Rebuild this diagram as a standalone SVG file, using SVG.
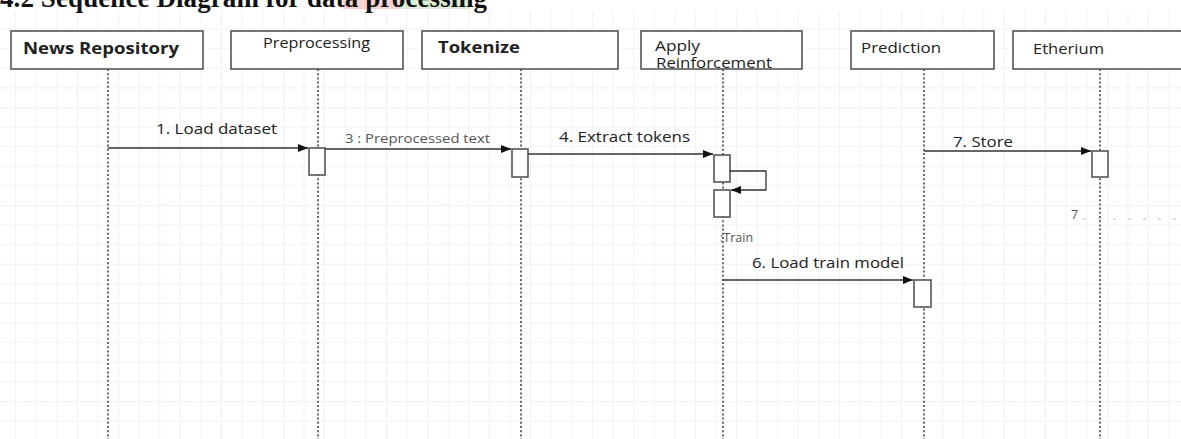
<svg xmlns="http://www.w3.org/2000/svg" width="1181" height="439" viewBox="0 0 1181 439">
<defs>
<pattern id="grid" x="15.1" y="9" width="20.6" height="19.6" patternUnits="userSpaceOnUse">
<path d="M0 0V19.6M0 0H20.6" fill="none" stroke="#e6e6e6" stroke-width="1"/>
</pattern>
<marker id="arr" viewBox="0 0 10 10" refX="10" refY="5" markerWidth="10" markerHeight="10" markerUnits="userSpaceOnUse" orient="auto">
<path d="M0 1L10 5L0 9Z" fill="#111"/>
</marker>
<style>
.box{fill:#fff;stroke:#555;stroke-width:1.6}
.act{fill:#fff;stroke:#555;stroke-width:1.6}
.life{stroke:#444;stroke-width:1.6;stroke-dasharray:2 2.2;fill:none}
.msg{stroke:#333;stroke-width:1.3;fill:none;marker-end:url(#arr)}
.t{font-family:"Open Sans","Noto Sans",sans-serif;fill:#222}
.b{font-weight:bold}
.m{font-family:"Open Sans","Noto Sans",sans-serif;fill:#222;font-size:14.5px}
.g{font-family:"Open Sans","Noto Sans",sans-serif;fill:#555;font-size:12.5px}
</style>
</defs>
<rect width="1181" height="439" fill="#fff"/>
<rect x="0" y="10" width="1181" height="429" fill="url(#grid)"/>
<rect x="343" y="0" width="57" height="9" fill="#f9d2d2"/>
<rect x="400" y="0" width="70" height="9" fill="#dcefd6"/>
<text x="0" y="7" font-family="Liberation Serif,serif" font-weight="bold" font-size="27" fill="#111" textLength="487">4.2 Sequence Diagram for data processing</text>

<g id="lifelines">
<line class="life" x1="108" y1="69" x2="108" y2="439"/>
<line class="life" x1="318" y1="69" x2="318" y2="439"/>
<line class="life" x1="521" y1="69" x2="521" y2="439"/>
<line class="life" x1="723" y1="69" x2="723" y2="439"/>
<line class="life" x1="924" y1="69" x2="924" y2="439"/>
<line class="life" x1="1100" y1="69" x2="1100" y2="439"/>
</g>

<g id="news-repository">
<rect class="box" x="11" y="31" width="192" height="38"/>
<text class="t b" x="23" y="54" font-size="16.5" textLength="156" lengthAdjust="spacingAndGlyphs">News Repository</text>
</g>
<g id="preprocessing">
<rect class="box" x="231" y="31" width="172" height="38"/>
<text class="t" x="263" y="48" font-size="14" textLength="107" lengthAdjust="spacingAndGlyphs">Preprocessing</text>
</g>
<g id="tokenize">
<rect class="box" x="422" y="31" width="196" height="38"/>
<text class="t b" x="438" y="53" font-size="15.5" textLength="82" lengthAdjust="spacingAndGlyphs">Tokenize</text>
</g>
<g id="apply-reinforcement">
<rect class="box" x="641" y="31" width="161" height="38"/>
<text class="t" x="655" y="51" font-size="15" textLength="45" lengthAdjust="spacingAndGlyphs">Apply</text>
<text class="t" x="656" y="68" font-size="15" textLength="116" lengthAdjust="spacingAndGlyphs">Reinforcement</text>
</g>
<g id="prediction">
<rect class="box" x="851" y="31" width="143" height="38"/>
<text class="t" x="861" y="53" font-size="15" textLength="80" lengthAdjust="spacingAndGlyphs">Prediction</text>
</g>
<g id="etherium">
<rect class="box" x="1013" y="31" width="180" height="38"/>
<text class="t" x="1033" y="54" font-size="15" textLength="71" lengthAdjust="spacingAndGlyphs">Etherium</text>
</g>

<g id="activations">
<rect class="act" x="309" y="148" width="16" height="27"/>
<rect class="act" x="512" y="149" width="16" height="28"/>
<rect class="act" x="714" y="155" width="16" height="27"/>
<rect class="act" x="714" y="190" width="16" height="27"/>
<rect class="act" x="914" y="280" width="17" height="27"/>
<rect class="act" x="1092" y="151" width="16" height="26"/>
</g>

<g id="connectors">
<line class="msg" x1="108" y1="148" x2="308" y2="148"/>
<line class="msg" x1="325" y1="149" x2="511" y2="149"/>
<line class="msg" x1="528" y1="154" x2="713" y2="154"/>
<polyline class="msg" points="730,171 766,171 766,190 731,190"/>
<line class="msg" x1="723" y1="280" x2="913" y2="280"/>
<line class="msg" x1="924" y1="151" x2="1091" y2="151"/>
<line x1="1083" y1="219" x2="1181" y2="219" stroke="#bbb" stroke-width="1" stroke-dasharray="3 12"/>
</g>

<g id="labels">
<text class="m" x="156" y="134" textLength="121" lengthAdjust="spacingAndGlyphs">1. Load dataset</text>
<text class="g" x="345" y="143" textLength="145" lengthAdjust="spacingAndGlyphs">3 : Preprocessed text</text>
<text class="m" x="559" y="142" textLength="131" lengthAdjust="spacingAndGlyphs">4. Extract tokens</text>
<text class="g" x="720" y="242">:Train</text>
<text class="m" x="752" y="268" textLength="152" lengthAdjust="spacingAndGlyphs">6. Load train model</text>
<text class="m" x="953" y="147" textLength="60" lengthAdjust="spacingAndGlyphs">7. Store</text>
<text class="g" x="1071" y="219">7</text>
</g>
</svg>
